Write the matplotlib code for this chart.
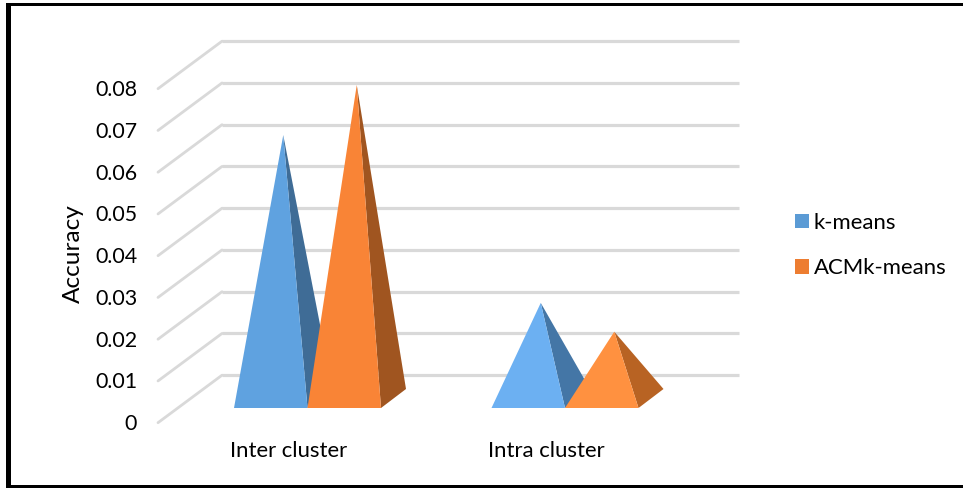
import matplotlib
matplotlib.use("Agg")
import matplotlib.pyplot as plt
from matplotlib.patches import Polygon, Rectangle, Patch
from matplotlib.transforms import ScaledTranslation
import numpy as np

categories = ["Inter cluster", "Intra cluster"]
kmeans = [0.0631, 0.0229]
acm = [0.0751, 0.0160]
yticks = [0, 0.01, 0.02, 0.03, 0.04, 0.05, 0.06, 0.07, 0.08]
yticklabels = ["0", "0.01", "0.02", "0.03", "0.04", "0.05", "0.06", "0.07", "0.08"]

plt.rcParams["font.family"] = ["Lato", "DejaVu Sans"]
W, H = 963, 488
fig = plt.figure(figsize=(W / 100, H / 100), dpi=100)

# plot-region in pixels (top-left origin)
L, R, B, T = 158, 739, 422.7, 41
ax = fig.add_axes([L / W, 1 - B / H, (R - L) / W, (B - T) / H])
PX_PER_CAT = 257.5
PX_PER_VAL = 4175
cat0_px = 307.5
ax.set_xlim((L - cat0_px) / PX_PER_CAT, (R - cat0_px) / PX_PER_CAT)
ax.set_ylim(0, (B - T) / PX_PER_VAL)
for s in ax.spines.values():
    s.set_visible(False)

dxu = lambda px: px / PX_PER_CAT
dyu = lambda px: px / PX_PER_VAL

WALL_DX, WALL_DY = 64, 47.5
GRID = "#d9d9d9"
for v in yticks:
    ax.plot([dxu(L - cat0_px), dxu(L - cat0_px + WALL_DX)], [v, v + dyu(WALL_DY)],
            color=GRID, lw=2.0, solid_capstyle="round", zorder=1, clip_on=False)
    ax.plot([dxu(L - cat0_px + WALL_DX), dxu(R - cat0_px)], [v + dyu(WALL_DY)] * 2,
            color=GRID, lw=2.3, solid_capstyle="butt", zorder=1, clip_on=False)

BAR_W = 73.5 / PX_PER_CAT
BASE_F = 14.7   # front edge lift above floor, px
D_DX, D_DY = 25, 19


def pyramid(x0, val, front, side, z):
    x1 = x0 + BAR_W
    y0 = dyu(BASE_F)
    mid_x = (x0 + x1) / 2 + dxu(D_DX / 2)
    mid_y = y0 + dyu(D_DY / 2)
    apex = (mid_x, mid_y + val)
    ax.add_patch(Polygon([apex, (x1, y0), (x1 + dxu(D_DX), y0 + dyu(D_DY))],
                         closed=True, fc=side, ec="none", zorder=z, clip_on=False))
    ax.add_patch(Polygon([apex, (x0, y0), (x1, y0)],
                         closed=True, fc=front, ec="none", zorder=z + 0.1, clip_on=False))


front_b = ["#5fa2e0", "#6cb0f2"]
side_b = ["#3f6c96", "#4476a6"]
front_o = ["#f98436", "#ff9140"]
side_o = ["#a05520", "#b86323"]
for i in range(len(categories)):
    pyramid(i - BAR_W, kmeans[i], front_b[i], side_b[i], 3)
    pyramid(i, acm[i], front_o[i], side_o[i], 4)

ax.set_yticks(yticks)
ax.set_yticklabels(yticklabels, fontsize=15.4, color="black")
ax.tick_params(axis="y", length=0, pad=15)
for t in ax.get_yticklabels():
    t.set_transform(t.get_transform() + ScaledTranslation(0, 0.5 / 100, fig.dpi_scale_trans))
ax.set_xticks(range(len(categories)))
ax.set_xticklabels(categories, fontsize=15.9, color="black")
ax.tick_params(axis="x", length=0, pad=13.5)
off = ScaledTranslation(-18.5 / 100, 0, fig.dpi_scale_trans)
for t in ax.get_xticklabels():
    t.set_transform(t.get_transform() + off)

fig.text(73.5 / W, 1 - 254 / H, "Accuracy", rotation=90, fontsize=17.6, ha="center", va="center")

handles = [Patch(fc="#5b9bd5", ec="none", label="k-means"),
           Patch(fc="#ed7d31", ec="none", label="ACMk-means")]
fig.legend(handles=handles, loc="center left", bbox_to_anchor=(795 / W, 1 - 245.5 / H),
           frameon=False, fontsize=15.9, handlelength=0.63, handleheight=0.63,
           handletextpad=0.22, labelspacing=1.15, borderpad=0, borderaxespad=0)

# black frame: top, left and bottom edges only
for (x0, y0, x1, y1) in [(6, 3.3, 963, 6.3), (6, 3.3, 11, 488), (6, 485, 963, 488)]:
    fig.add_artist(Rectangle((x0 / W, 1 - y1 / H), (x1 - x0) / W, (y1 - y0) / H,
                             transform=fig.transFigure, fc="black", ec="none"))
fig.savefig("out.png", dpi=100)
